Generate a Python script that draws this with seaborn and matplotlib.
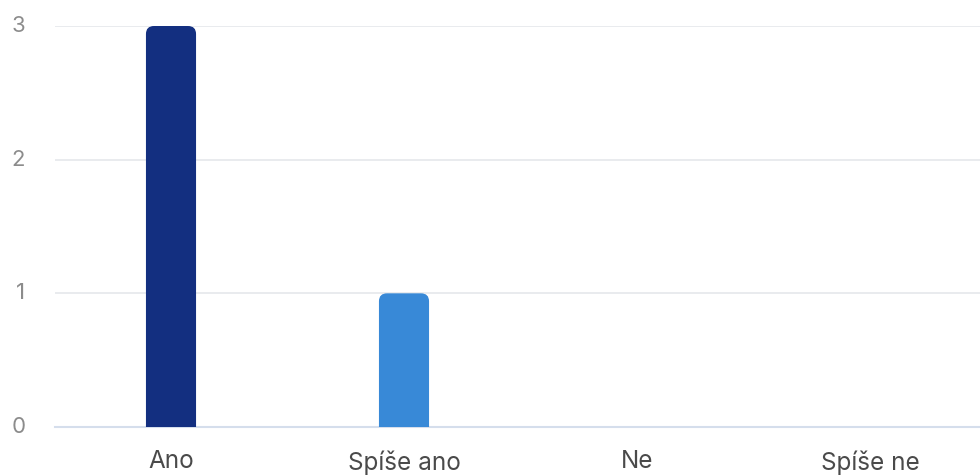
import seaborn as sns
import matplotlib.pyplot as plt
import matplotlib.transforms as mtransforms
import pandas as pd
from matplotlib.patches import FancyBboxPatch

# data
categories = ["Ano", "Spíše ano", "Ne", "Spíše ne"]
values = [3, 1, 0, 0]
colors = ["#132f80", "#3889d7", "#5fa8e8", "#9cc8f0"]

sns.set_theme(style="white")
plt.rcParams['font.family'] = ['Inter', 'DejaVu Sans']

df = pd.DataFrame({"cat": categories, "val": values})

fig = plt.figure(figsize=(9.8, 4.77), dpi=100)
ax = fig.add_axes([54.5 / 980, 49 / 477, (980 - 54.5) / 980, 401 / 477])

sns.barplot(data=df, x="cat", y="val", hue="cat", palette=colors,
            width=0.215, saturation=1, legend=False, ax=ax, zorder=3)

ax.set_xlim(-0.5, (980 - 54.5) / 233 - 0.5)
ax.set_ylim(0, 3)

# swap plain bars for ones with rounded top corners
px_x = 1 / 233
px_y = 3 / 401
for p in list(ax.patches):
    x, w, h = p.get_x(), p.get_width(), p.get_height()
    fc = p.get_facecolor()
    p.remove()
    if h <= 0:
        continue
    r = 8 * px_x
    rb = FancyBboxPatch((x, -12 * px_y), w, h + 12 * px_y,
                        boxstyle=f"round,pad=0,rounding_size={r}",
                        mutation_aspect=px_y / px_x,
                        fc=fc, ec="none", zorder=3)
    ax.add_patch(rb)

ax.set_yticks([0, 1, 2, 3])
ax.yaxis.grid(True, color="#e5e7eb", linewidth=1.2, zorder=0)
ax.xaxis.grid(False)
for s in ["top", "right", "left"]:
    ax.spines[s].set_visible(False)
ax.spines["bottom"].set_color("#d5deec")
ax.spines["bottom"].set_linewidth(1.5)
ax.spines["bottom"].set_zorder(2)

ax.tick_params(axis="y", length=0, pad=21, labelsize=16, labelcolor="#8c8c8c")
ax.tick_params(axis="x", length=0, pad=16, labelsize=17.5, labelcolor="#4a4a4a")
ax.set_xlabel("")
ax.set_ylabel("")

# y labels sit a touch above their gridlines
shift = mtransforms.ScaledTranslation(0, 3 / 100, fig.dpi_scale_trans)
for lab in ax.get_yticklabels():
    lab.set_transform(lab.get_transform() + shift)

fig.savefig("out.png", dpi=100)
